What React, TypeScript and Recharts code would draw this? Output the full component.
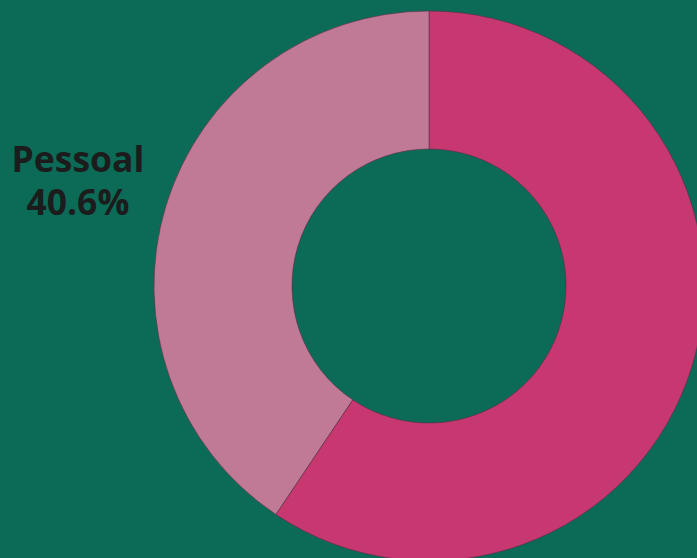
import React from "react";
import { PieChart, Pie, Cell } from "recharts";

const categories = ["Outros", "Pessoal"];
const values = [59.4, 40.6];
const colors = ["#c73870", "#c07a96"];
const labelled = ["Pessoal"];

const data = categories.map((name, i) => ({ name, value: values[i] }));

const RAD = Math.PI / 180;

const renderLabel = (props: any) => {
  const { cx, cy, midAngle, name, percent } = props;
  if (!labelled.includes(name)) return null;
  const r = 367;
  const x = cx + r * Math.cos(-midAngle * RAD);
  const y = cy + r * Math.sin(-midAngle * RAD);
  return (
    <text
      x={x}
      y={y}
      textAnchor="middle"
      fill="#1c1c1c"
      fontFamily="'Open Sans', 'Noto Sans', sans-serif"
      fontWeight={700}
      fontSize={35.5}
    >
      <tspan x={x} dy={-7}>{name}</tspan>
      <tspan x={x} dy={43}>{(percent * 100).toFixed(1)}%</tspan>
    </text>
  );
};

export default function App() {
  return (
    <div
      style={{
        position: "fixed",
        left: 0,
        top: 0,
        width: 697,
        height: 558,
        background: "#0b6b57",
        overflow: "hidden",
      }}
    >
      <PieChart width={697} height={558} margin={{ top: 0, right: 0, bottom: 0, left: 0 }}>
        <Pie
          data={data}
          dataKey="value"
          nameKey="name"
          cx={429}
          cy={286}
          innerRadius={137}
          outerRadius={275}
          startAngle={90}
          endAngle={-270}
          stroke="rgba(90,40,65,0.55)"
          strokeWidth={1}
          label={renderLabel}
          labelLine={false}
          isAnimationActive={false}
        >
          {data.map((d, i) => (
            <Cell key={d.name} fill={colors[i]} />
          ))}
        </Pie>
      </PieChart>
    </div>
  );
}
